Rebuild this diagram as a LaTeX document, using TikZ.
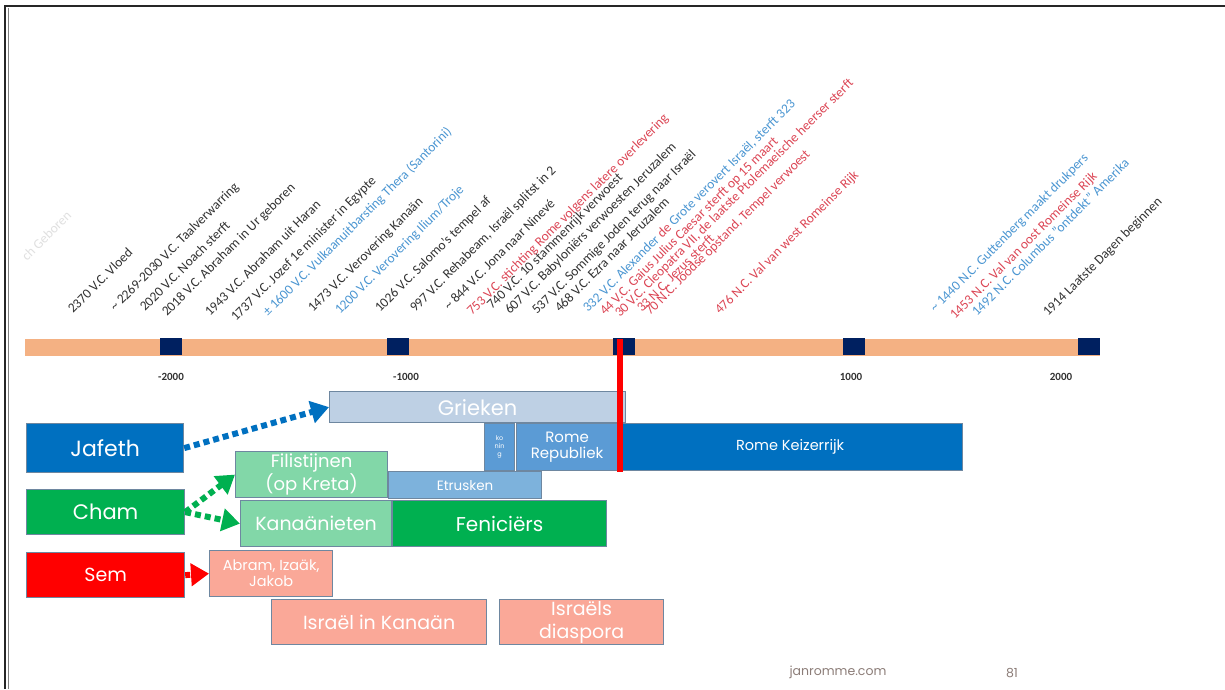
\documentclass[tikz,border=0pt]{standalone}
\usepackage{fontspec}
\setmainfont{Carlito}
\newfontfamily\gothic{Poppins}
\usetikzlibrary{arrows.meta}
\definecolor{barorange}{RGB}{244,177,131}
\definecolor{tickblue}{RGB}{0,32,96}
\definecolor{labgray}{RGB}{50,50,50}
\definecolor{labblue}{RGB}{75,150,210}
\definecolor{labred}{RGB}{220,70,85}
\definecolor{bordc}{RGB}{110,135,160}
\definecolor{darkblue}{RGB}{0,112,192}
\definecolor{midblue}{RGB}{91,155,213}
\definecolor{lightblue}{RGB}{125,178,220}
\definecolor{paleblue}{RGB}{190,208,228}
\definecolor{green1}{RGB}{0,176,80}
\definecolor{lightgreen}{RGB}{130,215,168}
\definecolor{salmon}{RGB}{250,168,152}
\definecolor{footc}{RGB}{140,125,120}
\tikzset{
  lab/.style={rotate=45, anchor=base west, inner sep=0pt, font=\fontsize{13.5}{14}\selectfont, text=labgray},
  box/.style={draw=bordc, line width=1.2pt, text=white, align=center, inner sep=0pt, anchor=north west},
  tick/.style={fill=tickblue, inner sep=0pt, minimum width=22pt, minimum height=17pt, anchor=north west},
  axlab/.style={font=\fontsize{11}{12}\selectfont\bfseries, text=labgray, inner sep=0pt},
  dotarrow/.style={line width=6pt, dash pattern=on 6pt off 4pt, -{Triangle[length=18pt,width=22pt]}},
}
\begin{document}
\begin{tikzpicture}[x=1pt,y=-1pt]
\useasboundingbox (0,0) rectangle (1225,689);
\fill[white] (0,0) rectangle (1225,689);
\draw[line width=2pt, black!85] (5,689) -- (5,6) -- (1225,6);
\draw[line width=0.8pt, black!50] (8,689) -- (8,8);

% timeline bar
\fill[barorange] (25,339) rectangle (1100,356);
\node[tick] (t1) at (160,338) {};
\node[tick] (t2) at (387,338) {};
\node[tick] (t3) at (613,338) {};
\node[tick] (t4) at (843,338) {};
\node[tick] (t5) at (1078,338) {};
\node[axlab] (a1) at (171,377) {-2000};
\node[axlab] (a2) at (406,377) {-1000};
\node[axlab] (a4) at (851,377) {1000};
\node[axlab] (a5) at (1061,377) {2000};

% rotated labels
\node[lab, text=black!12] (l0) at (27,262) {ch Geboren};
\node[lab] (l1) at (73,314) {2370 V.C. Vloed};
\node[lab] (l2) at (115,312) {\textasciitilde{} 2269-2030 V.C. Taalverwarring};
\node[lab] (l3) at (145,312) {2020 V.C. Noach sterft};
\node[lab] (l4) at (167,317) {2018 V.C. Abraham in Ur geboren};
\node[lab] (l5) at (210,317) {1943 V.C. Abraham uit Haran};
\node[lab] (l6) at (236,322) {1737 V.C. Jozef 1e minister in Egypte};
\node[lab, text=labblue] (l7) at (268,317) {± 1600 V.C. Vulkaanuitbarsting Thera (Santorini)};
\node[lab] (l8) at (313,313) {1473 V.C. Verovering Kanaän};
\node[lab, text=labblue] (l9) at (340,315) {1200 V.C. Verovering Ilium/Troje};
\node[lab] (l10) at (380,313) {1026 V.C. Salomo’s tempel af};
\node[lab] (l11) at (415,313) {997 V.C. Rehabeam, Israël splitst in 2};
\node[lab] (l12) at (449,311) {\textasciitilde{} 844 V.C. Jona naar Ninevé};
\node[lab, text=labred] (l13) at (472,316) {753 V.C. stichting Rome volgens latere overlevering};
\node[lab] (l14) at (492,310) {740 V.C. 10 stammenrijk verwoest};
\node[lab] (l15) at (510,315) {607 V.C. Babyloniërs verwoesten Jeruzalem};
\node[lab] (l16) at (537,315) {537 V.C. Sommige Joden terug naar Israël};
\node[lab] (l17) at (560,313) {468 V.C. Ezra naar Jeruzalem};
\node[lab, text=labblue] (l18) at (588,313) {332 V.C. Alexander \textcolor{labred}{de} Grote verovert Israël, sterft 323};
\node[lab, text=labred] (l19) at (605,316) {44 V.C. Gaius Julius Caesar sterft op 15 maart};
\node[lab, text=labred] (l20) at (620,318) {30 V.C. Cleopatra VII, de laatste Ptolemaeische heerser sterft};
\node[lab, text=labred] (l21) at (642,313) {33 N.C. Jezus sterft};
\node[lab, text=labred] (l22) at (650,316) {70 N.C. Joodse opstand, Tempel verwoest};
\node[lab, text=labred] (l23) at (720,315) {476 N.C. Val van west Romeinse Rijk};
\node[lab, text=labblue] (l24) at (935,313) {\textasciitilde{} 1440 N.C. Guttenberg maakt drukpers};
\node[lab, text=labred] (l25) at (955,320) {1453 N.C. Val van oost Romeinse Rijk};
\node[lab, text=labblue] (l26) at (977,317) {1492 N.C. Columbus "ontdekt" Amerika};
\node[lab] (l27) at (1048,317) {1914 Laatste Dagen beginnen};

% boxes
\node[box, fill=paleblue, minimum width=296pt, minimum height=31pt, font=\gothic\fontsize{21}{24}\selectfont] (grieken) at (329,391) {Grieken};
\node[box, fill=darkblue, minimum width=157pt, minimum height=49pt, font=\gothic\fontsize{22}{24}\selectfont] (jafeth) at (26,423) {Jafeth};
\node[box, fill=midblue, minimum width=30pt, minimum height=47pt, font=\gothic\fontsize{6.5}{8}\selectfont] (koning) at (484,423) {ko\\nin\\g};
\node[box, fill=midblue, minimum width=101pt, minimum height=47pt, font=\gothic\fontsize{15}{16}\selectfont] (republiek) at (516,423) {Rome\\Republiek};
\node[box, fill=darkblue, minimum width=345pt, minimum height=47pt, font=\gothic\fontsize{14.5}{16}\selectfont] (keizer) at (617,423) {Rome Keizerrijk};
\node[box, fill=lightgreen, minimum width=152pt, minimum height=46pt, font=\gothic\fontsize{18}{21}\selectfont] (filist) at (235,451) {Filistijnen\\(op Kreta)};
\node[box, fill=lightblue, minimum width=153pt, minimum height=27pt, font=\gothic\fontsize{13.5}{15}\selectfont] (etrusken) at (388,471) {Etrusken};
\node[box, fill=green1, minimum width=158pt, minimum height=45pt, font=\gothic\fontsize{21}{24}\selectfont] (cham) at (26,489) {Cham};
\node[box, fill=lightgreen, minimum width=151pt, minimum height=46pt, font=\gothic\fontsize{19}{22}\selectfont] (kanaan) at (240,500) {Kanaänieten};
\node[box, fill=green1, minimum width=214pt, minimum height=46pt, font=\gothic\fontsize{20}{22}\selectfont] (fenic) at (392,500) {Feniciërs};
\node[box, fill=red, minimum width=158pt, minimum height=45pt, font=\gothic\fontsize{19}{22}\selectfont] (sem) at (26,552) {Sem};
\node[box, fill=salmon, minimum width=123pt, minimum height=46pt, font=\gothic\fontsize{14.5}{16}\selectfont] (abram) at (209,550) {Abram, Izaäk,\\Jakob};
\node[box, fill=salmon, minimum width=215pt, minimum height=45pt, font=\gothic\fontsize{19}{22}\selectfont] (israel) at (271,599) {Israël in Kanaän};
\node[box, fill=salmon, minimum width=164pt, minimum height=45pt, font=\gothic\fontsize{19}{23}\selectfont] (diaspora) at (499,599) {Israëls\\diaspora};

% red now-line
\draw[red, line width=6pt] (620,339) -- (620,472);

% arrows
\draw[dotarrow, darkblue] (jafeth.east) -- (grieken.west);
\draw[dotarrow, green1] (cham.east) -- (filist.west);
\draw[dotarrow, green1] (cham.east) -- (kanaan.west);
\draw[dotarrow, red, dash pattern=on 5pt off 4pt] (sem.east) -- (abram.west);

% footer
\node[font=\gothic\fontsize{12.5}{14}\selectfont, text=footc] (site) at (838,672) {janromme.com};
\node[font=\gothic\fontsize{12.5}{14}\selectfont, text=footc] (page) at (1012,673) {81};
\end{tikzpicture}
\end{document}
